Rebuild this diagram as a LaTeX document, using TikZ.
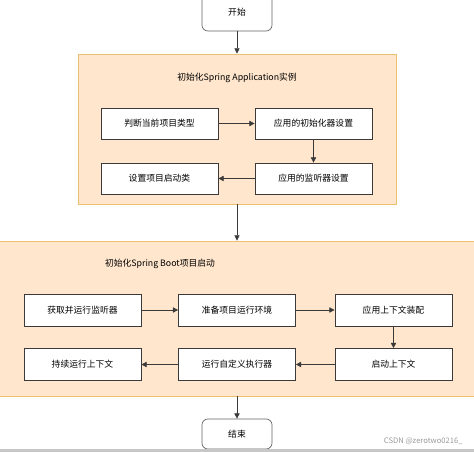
\documentclass[tikz,border=0pt]{standalone}
\usepackage{fontspec}
\setmainfont{Noto Sans CJK SC}
\usetikzlibrary{arrows.meta}
\definecolor{groupfill}{HTML}{FFE6CC}
\definecolor{groupline}{HTML}{EBC170}
\definecolor{boxline}{HTML}{3A3A3A}
\tikzset{
    stepbox/.style={draw=boxline, line width=0.6pt, fill=white, minimum width=3.51cm, minimum height=0.93cm, inner sep=0pt, font=\fontsize{7.5}{9}\selectfont},
    termbox/.style={draw=boxline!80, line width=0.6pt, fill=white, rounded corners=5pt, minimum width=2.1cm, inner sep=0pt, font=\fontsize{7.5}{9}\selectfont},
    groupbox/.style={draw=groupline, line width=0.8pt, fill=groupfill, inner sep=0pt},
    flow/.style={-{Triangle[length=4.5pt,width=4.5pt]}, line width=0.6pt, draw=boxline}
}
\begin{document}
\begin{tikzpicture}
    \useasboundingbox (0,0) rectangle (14.22,13.56);
    % groups
    \node[groupbox, minimum width=9.54cm, minimum height=4.5cm] (init) at (7.11,9.69) {};
    \node[groupbox, minimum width=14.6cm, minimum height=4.65cm] (boot) at (7.11,4.005) {};
    \node[font=\fontsize{7.5}{9}\selectfont] (inittitle) at (7.11,11.22) {初始化Spring Application实例};
    \node[font=\fontsize{7.5}{9}\selectfont] (boottitle) at (4.8,5.64) {初始化Spring Boot项目启动};
    % start and end
    \node[termbox, minimum height=1.1cm] (start) at (7.11,13.18) {开始};
    \node[termbox, minimum height=0.9cm] (end) at (7.11,0.54) {结束};
    % first group
    \node[stepbox] (type) at (4.785,9.855) {判断当前项目类型};
    \node[stepbox] (initset) at (9.405,9.855) {应用的初始化器设置};
    \node[stepbox] (listenset) at (9.405,8.205) {应用的监听器设置};
    \node[stepbox] (mainclass) at (4.785,8.205) {设置项目启动类};
    % second group
    \node[stepbox, minimum height=0.96cm] (listeners) at (2.475,4.26) {获取并运行监听器};
    \node[stepbox, minimum height=0.96cm] (env) at (7.11,4.26) {准备项目运行环境};
    \node[stepbox, minimum height=0.96cm] (ctxprep) at (11.805,4.26) {应用上下文装配};
    \node[stepbox, minimum height=0.96cm] (ctxstart) at (11.805,2.625) {启动上下文};
    \node[stepbox, minimum height=0.96cm] (runners) at (7.11,2.625) {运行自定义执行器};
    \node[stepbox, minimum height=0.96cm] (running) at (2.475,2.625) {持续运行上下文};
    % connectors
    \draw[flow] (start) -- (init);
    \draw[flow] (type) -- (initset);
    \draw[flow] (initset) -- (listenset);
    \draw[flow] (listenset) -- (mainclass);
    \draw[flow] (init) -- (boot);
    \draw[flow] (listeners) -- (env);
    \draw[flow] (env) -- (ctxprep);
    \draw[flow] (ctxprep) -- (ctxstart);
    \draw[flow] (ctxstart) -- (runners);
    \draw[flow] (runners) -- (running);
    \draw[flow] (boot) -- (end);
    % bottom strip and watermark
    \fill[black!22] (0,0) rectangle (14.22,0.09);
    \node[anchor=east, text=black!40, font=\fontsize{6.5}{8}\selectfont] (mark) at (14.0,0.33) {CSDN @zerotwo0216\_};
\end{tikzpicture}
\end{document}
